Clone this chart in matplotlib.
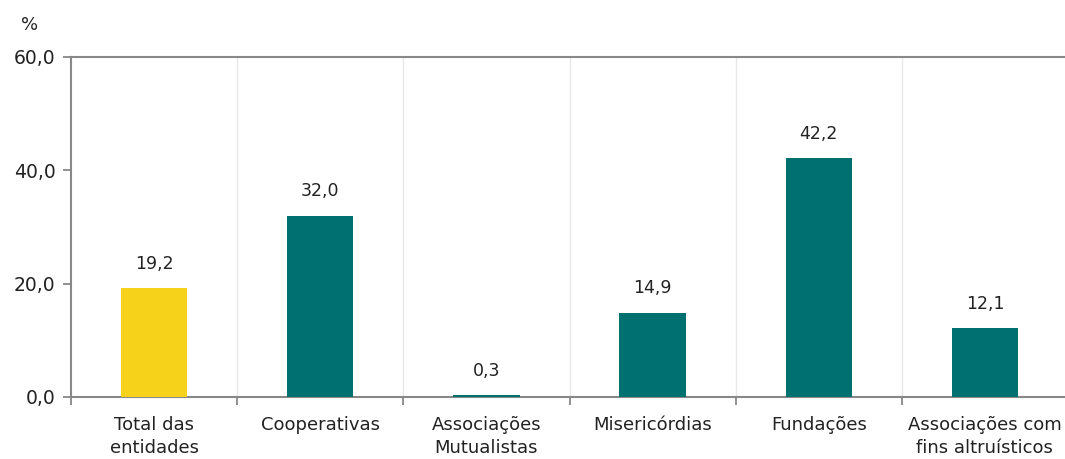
import numpy as np
import matplotlib.pyplot as plt

# dados
categorias = ["Total das\nentidades", "Cooperativas", "Associações\nMutualistas",
              "Misericórdias", "Fundações", "Associações com\nfins altruísticos"]
valores = [19.2, 32.0, 0.3, 14.9, 42.2, 12.1]
cores = ["#F6D21B", "#007170", "#007170", "#007170", "#007170", "#007170"]
yticks = [0, 20, 40, 60]

plt.rcParams['font.family'] = ['DejaVu Sans']

fig = plt.figure(figsize=(10.65, 4.59), dpi=100)
ax = fig.add_axes([71 / 1065, 1 - 397 / 459, (1068 - 71) / 1065, (397 - 57) / 459])

x = np.arange(len(categorias))
ax.bar(x, valores, width=0.4, color=cores, zorder=3)

for xi, v in zip(x, valores):
    ax.annotate(f"{v:.1f}".replace(".", ","), (xi, v), xytext=(0, 11),
                textcoords="offset points", ha="center", va="bottom",
                fontsize=12.5, color="#222222")

ax.set_xlim(-0.5, len(categorias) - 0.5)
ax.set_ylim(0, 60)
ax.set_yticks(yticks)
ax.set_yticklabels([f"{t:.1f}".replace(".", ",") for t in yticks], fontsize=13.5, color="#222222")

# rótulos das categorias no centro, ticks nas fronteiras
ax.set_xticks(x)
ax.set_xticklabels(categorias, fontsize=13, color="#222222", linespacing=1.35)
ax.tick_params(axis="x", which="major", length=0, pad=14)
ax.set_xticks(np.arange(len(categorias) + 1) - 0.5, minor=True)
ax.tick_params(axis="x", which="minor", length=6, width=1.3, color="#888888")
ax.tick_params(axis="y", length=6, width=1.3, color="#888888", pad=5)

for b in np.arange(1, len(categorias)) - 0.5:
    ax.axvline(b, color="#E8E8E8", lw=1, zorder=1)

for s in ["left", "bottom", "top"]:
    ax.spines[s].set_color("#888888")
    ax.spines[s].set_linewidth(1.5)
ax.spines["right"].set_visible(False)

fig.text(30 / 1065, 1 - 25 / 459, "%", ha="center", va="center", fontsize=13, color="#222222")

fig.savefig("out.png", dpi=100)
